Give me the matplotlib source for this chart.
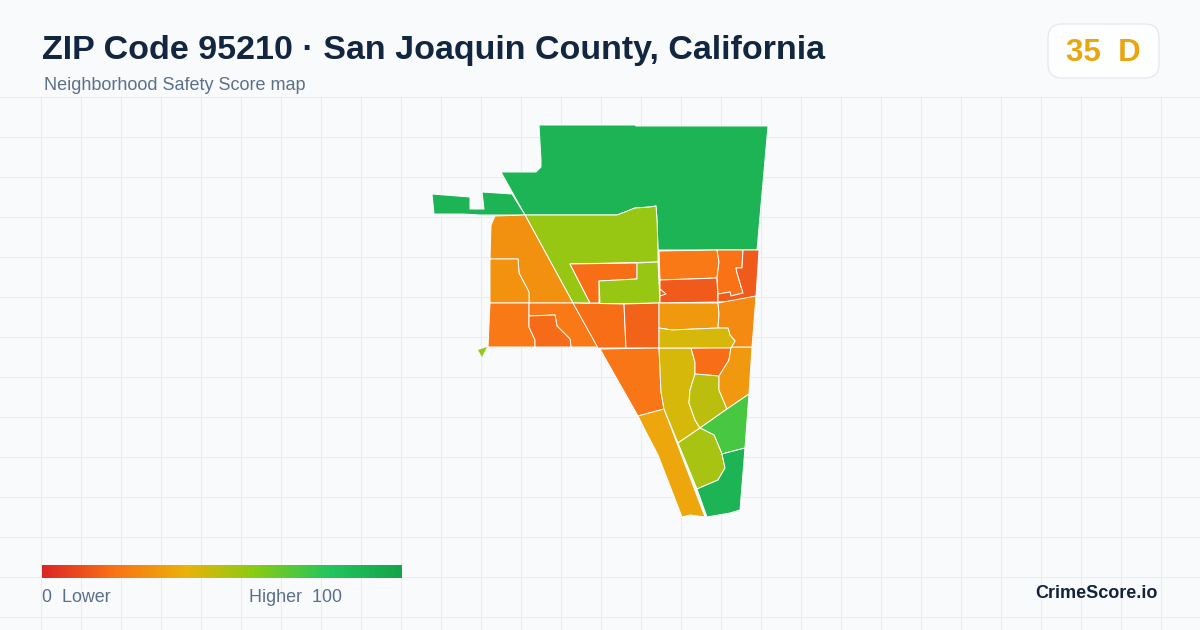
import numpy as np
import matplotlib
matplotlib.use("Agg")
import matplotlib.pyplot as plt
from matplotlib.colors import LinearSegmentedColormap
from matplotlib.patches import Polygon, FancyBboxPatch

plt.rcParams['font.family'] = ['Liberation Sans', 'DejaVu Sans']

title = "ZIP Code 95210 · San Joaquin County, California"
subtitle = "Neighborhood Safety Score map"
zip_score = 35
zip_grade = "D"

# neighborhood outlines
north = [(539,125),(635,125),(636,126),(768,126),(757,250),(658,250),(657,220),(656,206),(650,207),(635,208),(625,212),(617,215),(525,215),(501,172),(536,172),(541,167),(541,160)]
northwest = [(432,194),(470,197),(470,209),(484,209),(482,192),(512,194),(525,215),(490,215),(480,215),(463,214),(434,214)]
lime_main = [(525,215),(617,215),(625,212),(635,208),(650,207),(656,206),(657,220),(658,250),(658,262),(570,264),(590,303),(573,303)]
inner_orange = [(570,264),(637,263),(637,279),(618,280),(599,281),(599,303),(590,303)]
lime_block = [(599,281),(618,280),(637,279),(637,263),(658,262),(660,303),(600,304)]
west_top = [(491,225),(495,216),(525,215),(573,303),(529,303),(529,292),(519,273),(518,259),(490,259)]
west_left = [(490,259),(518,259),(519,273),(529,292),(529,303),(490,303)]
row_a = [(490,303),(529,303),(529,327),(535,340),(535,347),(488,347)]
row_b = [(529,303),(573,303),(598,347),(571,347),(570,339),(557,326),(555,315),(529,316)]
row_c = [(529,316),(555,315),(557,326),(570,339),(571,347),(535,347),(535,340),(529,327)]
row_d = [(573,303),(624,304),(626,348),(598,348)]
row_e = [(624,304),(659,303),(659,348),(626,348)]
south_wedge = [(600,349),(659,348),(661,392),(664,409),(638,416)]
strip = [(638,416),(664,409),(705,517),(690,515),(682,517),(658,455),(645,430)]
tall_yellow = [(659,348),(691,348),(695,362),(695,375),(690,390),(689,403),(695,420),(700,428),(678,443),(664,409),(661,392)]
small_red = [(691,348),(731,347),(729,360),(719,376),(695,374),(695,362)]
olive = [(695,374),(719,376),(719,390),(727,409),(700,428),(695,420),(689,403),(690,390)]
amber_right = [(731,347),(752,347),(749,394),(727,409),(719,390),(719,376),(729,360)]
green_light = [(749,394),(745,448),(722,454),(714,435),(700,428),(727,409)]
lime_low = [(700,428),(714,435),(722,454),(725,468),(718,480),(697,489),(678,443)]
green_south = [(745,448),(740,510),(730,513),(707,517),(697,489),(718,480),(725,468),(722,454)]
block_1 = [(659,251),(717,250),(719,262),(717,278),(690,279),(660,280)]
block_2 = [(660,280),(690,279),(717,278),(718,302),(660,303)]
notch = [(660,289),(666,294),(660,296)]
block_3 = [(717,250),(743,250),(742,268),(736,268),(737,273),(743,293),(731,296),(730,292),(718,294),(717,278),(719,262)]
block_4 = [(743,250),(759,250),(756,296),(738,301),(718,302),(718,294),(730,292),(731,296),(743,293),(737,273),(736,268),(742,268)]
amber_row = [(659,303),(718,303),(719,314),(718,328),(672,330),(659,328)]
east_orange = [(718,303),(756,296),(752,347),(731,347),(735,341),(730,335),(728,328),(718,328),(719,314)]
yellow_band = [(659,328),(672,330),(718,328),(728,328),(730,335),(735,341),(731,348),(691,348),(659,348)]
speck = [(478,350),(487,347),(482,357)]

regions = [north, northwest, lime_main, inner_orange, lime_block, west_top, west_left,
           row_a, row_b, row_c, row_d, row_e, south_wedge, strip, tall_yellow, small_red,
           olive, amber_right, green_light, lime_low, green_south, block_1, block_2, notch,
           block_3, block_4, amber_row, east_orange, yellow_band]
scores = [90, 90, 56, 19, 56, 29, 30,
          22, 22, 18, 19, 16, 21, 36, 44, 19,
          49, 32, 72, 53, 90, 22, 14, 14,
          20, 14, 32, 27, 44]

scale_pos = [0, 0.2, 0.4, 0.6, 0.8, 1]
scale_col = ["#dc2626", "#f97316", "#eab308", "#84cc16", "#22c55e", "#16a34a"]
cmap = LinearSegmentedColormap.from_list("safety", list(zip(scale_pos, scale_col)))

fig = plt.figure(figsize=(12, 6.3), dpi=100, facecolor="#f8fafc")
ax = fig.add_axes([0, 0, 1, 1])
ax.set_axis_off()

# faint background grid
for x in np.arange(40.5, 1200, 40):
    ax.plot([x, x], [96.5, 630], color="#e7eef3", lw=0.8, zorder=1)
for y in np.arange(96.5, 630, 40):
    ax.plot([0, 1200], [y, y], color="#e7eef3", lw=0.8, zorder=1)

for poly, s in zip(regions, scores):
    ax.add_patch(Polygon(poly, closed=True, facecolor=cmap(s / 100), edgecolor="#ffffff",
                         lw=0.7, joinstyle="round", zorder=2))
# the stray lime speck west of the map has no visible outline
ax.add_patch(Polygon(speck, closed=True, facecolor=cmap(56 / 100), edgecolor="none", zorder=2))

# legend bar
grad = np.linspace(0, 1, 360).reshape(1, -1)
ax.imshow(grad, cmap=cmap, extent=(42, 402, 578, 565), aspect="auto", zorder=3)
ax.text(42, 597, "0  Lower", fontsize=12.9, color="#5b6f8b", va="center", ha="left")
ax.text(249, 597, "Higher  100", fontsize=12.9, color="#5b6f8b", va="center", ha="left")

ax.text(42, 50, title, fontsize=24.5, fontweight="bold", color="#12263f", va="center", ha="left")
ax.text(44, 85.5, subtitle, fontsize=12.95, color="#5b7089", va="center", ha="left")

# score badge
ax.add_patch(FancyBboxPatch((1060, 36), 87, 30, boxstyle="round,pad=12,rounding_size=14",
                            facecolor="#fdfefe", edgecolor="#e0e7ef", lw=0.8, zorder=3))
ax.text(1103, 53, f"{zip_score}  {zip_grade}", fontsize=22.5, fontweight="bold",
        color="#eaa50f", va="center", ha="center", zorder=4)

ax.text(1158, 594, "CrimeScore.io", fontsize=13, fontweight="bold", color="#14233a", va="center", ha="right")

ax.set_xlim(0, 1200)
ax.set_ylim(630, 0)
fig.savefig("out.png", dpi=100, facecolor=fig.get_facecolor())
